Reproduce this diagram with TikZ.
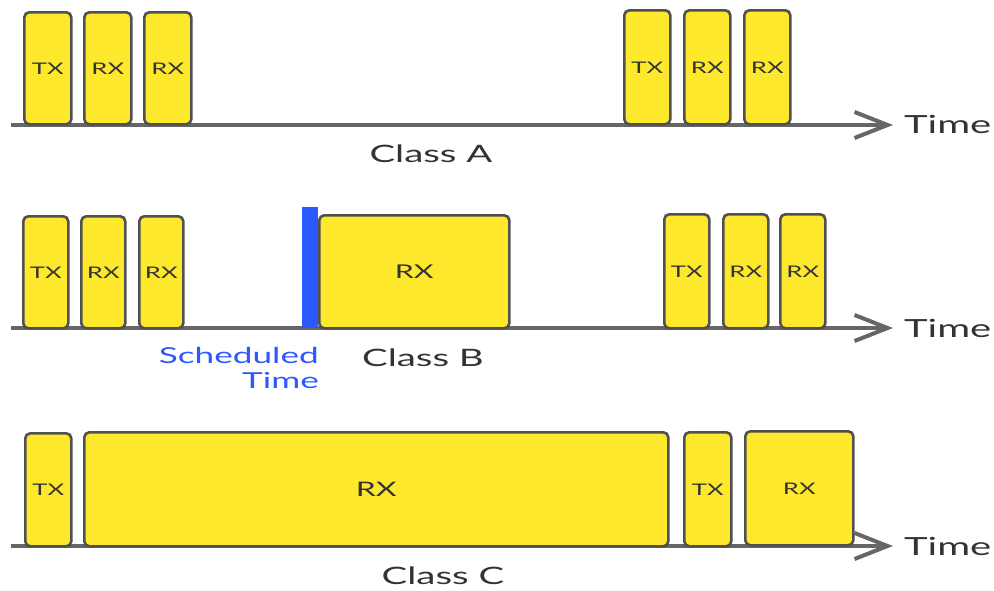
\documentclass[tikz,border=0pt]{standalone}
\usepackage{fontspec}
\setmainfont[FakeStretch=1.6]{Lato}
\usetikzlibrary{arrows.meta}
\definecolor{slotyellow}{HTML}{FDE82C}
\definecolor{slotedge}{HTML}{505050}
\definecolor{axisgray}{HTML}{666666}
\definecolor{schedblue}{HTML}{2D57FF}
\definecolor{textgray}{HTML}{333333}
\newcommand\mkslot[6]{\node[slot, minimum width={#4-#2}, minimum height={#5-#3}] (#1) at (#2,#3) {#6};}
\begin{document}
\begin{tikzpicture}[x=1pt,y=-1pt,
  slot/.style={draw=slotedge, fill=slotyellow, line width=2.6pt, rounded corners=5pt,
    anchor=north west, inner sep=0pt, text=textgray, font=\fontsize{16}{16}\selectfont},
  timeline/.style={draw=axisgray, line width=4pt,
    -{Straight Barb[length=33pt,width=26pt,line width=4pt]}},
  timelabel/.style={anchor=west, inner sep=0pt, text=textgray, font=\fontsize{25}{25}\selectfont},
  classlabel/.style={inner sep=0pt, text=textgray, font=\fontsize{24}{24}\selectfont},
  schedbar/.style={fill=schedblue, draw=none, anchor=north west, inner sep=0pt}]
\useasboundingbox (0,0) rectangle (994,590);
% ---- Class A ----
\coordinate (a0) at (11,125);
\coordinate (a1) at (893,125);
\draw[timeline] (a0) -- (a1);
\mkslot{atx1}{23}{11}{70}{123}{TX}
\mkslot{arx1}{83}{11}{130}{123}{RX}
\mkslot{arx2}{143}{11}{190}{123}{RX}
\mkslot{atx2}{623}{9}{669}{123}{TX}
\mkslot{arx3}{683}{9}{729}{123}{RX}
\mkslot{arx4}{743}{9}{789}{123}{RX}
\node[timelabel] (ta) at (904,124) {Time};
\node[classlabel] (ca) at (431,154) {Class A};
% ---- Class B ----
\coordinate (b0) at (11,328);
\coordinate (b1) at (893,328);
\draw[timeline] (b0) -- (b1);
\mkslot{btx1}{22}{215}{67}{327}{TX}
\mkslot{brx1}{80}{215}{124}{327}{RX}
\mkslot{brx2}{138}{215}{182}{327}{RX}
\mkslot{brxb}{318}{214}{508}{327}{\fontsize{19}{19}\selectfont RX}
\node[schedbar, minimum width=16pt, minimum height=121pt] (bar) at (302,207) {};
\mkslot{btx2}{663}{213}{708}{327}{TX}
\mkslot{brx3}{722}{213}{767}{327}{RX}
\mkslot{brx4}{779}{213}{824}{327}{RX}
\node[timelabel] (tb) at (904,328) {Time};
\node[classlabel] (cb) at (423,358) {Class B};
\node[anchor=north east, inner sep=0pt, align=right, text=schedblue,
  font=\fontsize{22}{25}\selectfont] (sched) at (319,347) {Scheduled\\Time};
% ---- Class C ----
\coordinate (c0) at (11,546);
\coordinate (c1) at (893,546);
\draw[timeline] (c0) -- (c1);
\mkslot{ctx1}{24}{432}{70}{545}{TX}
\mkslot{crxb}{83}{431}{667}{545}{\fontsize{20}{20}\selectfont RX}
\mkslot{ctx2}{683}{431}{730}{545}{TX}
\mkslot{crx2}{744}{430}{852}{544}{RX}
\node[timelabel] (tc) at (904,546) {Time};
\node[classlabel] (cc) at (443,576) {Class C};
\end{tikzpicture}
\end{document}
